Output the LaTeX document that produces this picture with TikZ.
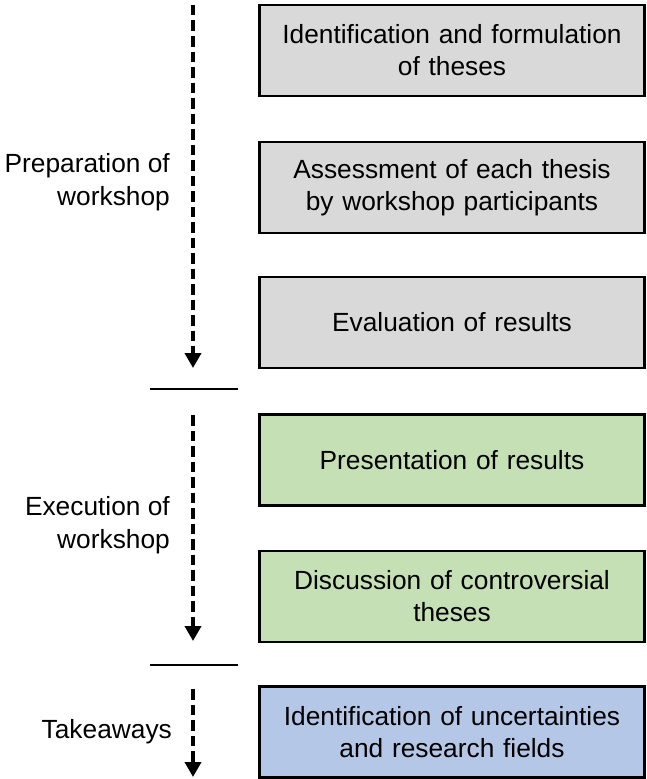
\documentclass[tikz,border=0pt]{standalone}
\usepackage{fontspec}
\setmainfont{Liberation Sans}
\usetikzlibrary{arrows.meta}
\definecolor{prepfill}{HTML}{D9D9D9}
\definecolor{execfill}{HTML}{C5E0B4}
\definecolor{takefill}{HTML}{B4C7E7}
\tikzset{
  stepbox/.style={draw=black, line width=2.5bp, minimum width=385bp, minimum height=91bp,
    inner sep=0pt, align=center, text width=380bp,
    font=\fontsize{26.4}{32}\selectfont},
  phase/.style={align=right, anchor=east, inner sep=0pt,
    font=\fontsize{26.4}{33}\selectfont},
  flow/.style={line width=3.6bp, dash pattern=on 10.5bp off 5bp,
    -{Triangle[width=16bp,length=15bp]}},
  divider/.style={line width=2bp}
}
\begin{document}
\begin{tikzpicture}[x=1bp,y=-1bp]
  \useasboundingbox (0,0) rectangle (647,779);

  % process steps
  \node[stepbox, fill=prepfill] (s1) at (452,50.5) {Identification and formulation\\of theses};
  \node[stepbox, fill=prepfill] (s2) at (452,187.5) {Assessment of each thesis\\by workshop participants};
  \node[stepbox, fill=prepfill] (s3) at (452,322.5) {Evaluation of results};
  \node[stepbox, fill=execfill] (s4) at (452,460) {Presentation of results};
  \node[stepbox, fill=execfill] (s5) at (452,596.5) {Discussion of controversial\\theses};
  \node[stepbox, fill=takefill] (s6) at (452,732) {Identification of uncertainties\\and research fields};

  % phase labels
  \node[phase] (p1) at (170,182) {Preparation of\\workshop};
  \node[phase] (p2) at (170,525) {Execution of\\workshop};
  \node[phase] (p3) at (172,732) {Takeaways};

  % timeline arrows
  \coordinate (a1s) at (193,5);
  \coordinate (a1e) at (193,368);
  \coordinate (a2s) at (193,415);
  \coordinate (a2e) at (193,641);
  \coordinate (a3s) at (193,689);
  \coordinate (a3e) at (193,777);
  \draw[flow] (a1s) -- (a1e);
  \draw[flow] (a2s) -- (a2e);
  \draw[flow] (a3s) -- (a3e);

  % phase dividers
  \coordinate (d1l) at (150,389);
  \coordinate (d1r) at (238,389);
  \coordinate (d2l) at (150,665);
  \coordinate (d2r) at (238,665);
  \draw[divider] (d1l) -- (d1r);
  \draw[divider] (d2l) -- (d2r);
\end{tikzpicture}
\end{document}
